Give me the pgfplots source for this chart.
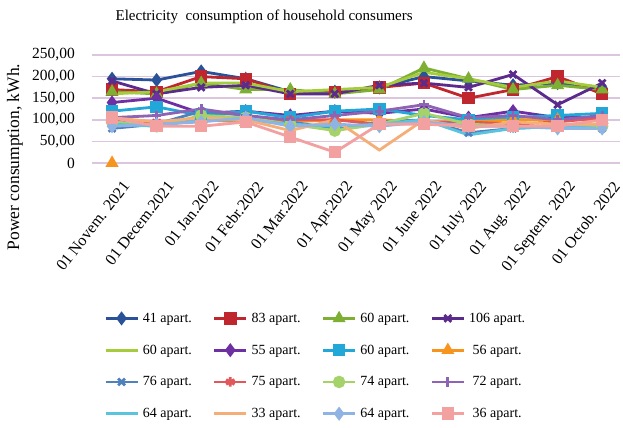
\documentclass[border=0pt]{standalone}
\usepackage{fontspec}
\setmainfont{Liberation Serif}
\usepackage{pgfplots}
\pgfplotsset{compat=1.18}
\definecolor{c41}{HTML}{2A5298}
\definecolor{c83}{HTML}{C0262D}
\definecolor{c60a}{HTML}{7DAF32}
\definecolor{c106}{HTML}{5A2A8C}
\definecolor{c60b}{HTML}{A4CC3C}
\definecolor{c55}{HTML}{6E2FA3}
\definecolor{c60c}{HTML}{22A8D8}
\definecolor{c56}{HTML}{F7941D}
\definecolor{c76}{HTML}{4F81BD}
\definecolor{c75}{HTML}{E2585A}
\definecolor{c74}{HTML}{A6D26A}
\definecolor{c72}{HTML}{8E63B3}
\definecolor{c64a}{HTML}{5BC3DE}
\definecolor{c33}{HTML}{F5AE78}
\definecolor{c64b}{HTML}{8FB4E3}
\definecolor{c36}{HTML}{F2A0A0}
\definecolor{gridc}{HTML}{DCC6DE}
\begin{document}
\begin{tikzpicture}
\path[use as bounding box] (-92bp,-265bp) rectangle (531bp,163bp);
\begin{axis}[
  at={(0,0)}, anchor=south west,
  scale only axis, width=528bp, height=108bp,
  xmin=-0.45, xmax=11.4, ymin=0, ymax=250,
  clip=false,
  unbounded coords=jump,
  axis line style={draw=none},
  major tick length=0pt,
  xtick={0,...,11},
  xticklabels={{01 Novem. 2021},{01 Decem.2021},{01 Jan.2022},{01 Febr.2022},{01 Mar.2022},{01 Apr.2022},{01 May 2022},{01 June 2022},{01 July 2022},{01 Aug. 2022},{01 Septem. 2022},{01 Octob. 2022}},
  xticklabel style={rotate=52, anchor=north east, inner sep=0pt, font=\fontsize{16bp}{17bp}\selectfont, xshift=-7bp, yshift=-18bp},
  ytick={50,100,150,200,250},
  yticklabels={{50,00},{100,00},{150,00},{200,00},{250,00}},
  extra y ticks={0},
  extra y tick labels={{0,00}},
  extra y tick style={grid style={color=black!28, line width=2.4bp}},
  yticklabel style={anchor=east, inner sep=0pt, xshift=-17bp, font=\fontsize{15.5bp}{17bp}\selectfont},
  ymajorgrids, xmajorgrids=false,
  major grid style={color=gridc, line width=1.6bp},
  title={Electricity\ \ consumption of household consumers},
  title style={at={(axis description cs:0.326,1.30)}, anchor=center, font=\fontsize{15bp}{16bp}\selectfont},
  ylabel={Power consumption, kWh.},
  every axis y label/.style={at={(axis description cs:-0.1458,0.056)}, rotate=90, anchor=center, font=\fontsize{17.5bp}{19bp}\selectfont},
  legend columns=4,
  legend style={at={(axis description cs:0.017,-1.35)}, anchor=north west, draw=none, fill=none,
    font=\fontsize{14bp}{15bp}\selectfont, row sep=17bp,
    /tikz/every even column/.append style={column sep=19bp},
    /tikz/every odd column/.append style={column sep=2bp}},
  legend image code/.code={\draw[mark repeat=2,mark phase=2,#1] plot coordinates {(0bp,0bp) (16bp,0bp) (32bp,0bp)};},
  every axis plot/.append style={line width=2.8bp, mark size=4.8bp, mark options={solid}},
]
\addplot[color=c41, mark=diamond*] coordinates {(0,195)(1,192)(2,212)(3,195)(4,165)(5,165)(6,175)(7,200)(8,190)(9,180)(10,185)(11,175)};
\addlegendentry{41 apart.}
\addplot[color=c83, mark=square*] coordinates {(0,170)(1,165)(2,200)(3,195)(4,160)(5,165)(6,175)(7,185)(8,150)(9,170)(10,200)(11,160)};
\addlegendentry{83 apart.}
\addplot[color=c60a, mark=triangle*] coordinates {(0,165)(1,160)(2,185)(3,170)(4,170)(5,160)(6,170)(7,220)(8,195)(9,170)(10,180)(11,170)};
\addlegendentry{60 apart.}
\addplot[color=c106, mark=x] coordinates {(0,190)(1,160)(2,175)(3,180)(4,160)(5,160)(6,180)(7,185)(8,175)(9,205)(10,135)(11,185)};
\addlegendentry{106 apart.}
\addplot[color=c60b, mark=none] coordinates {(0,160)(1,165)(2,185)(3,185)(4,165)(5,170)(6,175)(7,210)(8,195)(9,175)(10,190)(11,175)};
\addlegendentry{60 apart.}
\addplot[color=c55, mark=diamond*] coordinates {(0,140)(1,150)(2,115)(3,120)(4,110)(5,120)(6,115)(7,125)(8,105)(9,120)(10,105)(11,105)};
\addlegendentry{55 apart.}
\addplot[color=c60c, mark=square*] coordinates {(0,120)(1,130)(2,110)(3,120)(4,105)(5,120)(6,125)(7,110)(8,100)(9,105)(10,110)(11,115)};
\addlegendentry{60 apart.}
\addplot[color=c56, mark=triangle*] coordinates {(0,0)(1,nan)(2,100)(3,95)(4,95)(5,100)(6,100)(7,95)(8,95)(9,100)(10,100)(11,100)};
\addlegendentry{56 apart.}
\addplot[color=c76, mark=x] coordinates {(0,80)(1,90)(2,120)(3,110)(4,95)(5,80)(6,95)(7,100)(8,70)(9,80)(10,85)(11,80)};
\addlegendentry{76 apart.}
\addplot[color=c75, mark=asterisk] coordinates {(0,100)(1,95)(2,100)(3,100)(4,100)(5,100)(6,90)(7,95)(8,95)(9,90)(10,95)(11,105)};
\addlegendentry{75 apart.}
\addplot[color=c74, mark=*] coordinates {(0,95)(1,85)(2,110)(3,105)(4,90)(5,75)(6,90)(7,115)(8,90)(9,85)(10,85)(11,85)};
\addlegendentry{74 apart.}
\addplot[color=c72, mark=+] coordinates {(0,105)(1,110)(2,125)(3,110)(4,100)(5,110)(6,120)(7,135)(8,105)(9,110)(10,100)(11,110)};
\addlegendentry{72 apart.}
\addplot[color=c64a, mark=none] coordinates {(0,90)(1,85)(2,100)(3,100)(4,90)(5,85)(6,90)(7,100)(8,65)(9,80)(10,85)(11,80)};
\addlegendentry{64 apart.}
\addplot[color=c33, mark=none] coordinates {(0,105)(1,95)(2,105)(3,100)(4,75)(5,100)(6,30)(7,100)(8,80)(9,95)(10,90)(11,90)};
\addlegendentry{33 apart.}
\addplot[color=c64b, mark=diamond*] coordinates {(0,85)(1,90)(2,95)(3,105)(4,85)(5,90)(6,85)(7,95)(8,85)(9,85)(10,80)(11,80)};
\addlegendentry{64 apart.}
\addplot[color=c36, mark=square*] coordinates {(0,105)(1,85)(2,85)(3,95)(4,60)(5,25)(6,90)(7,90)(8,85)(9,85)(10,85)(11,100)};
\addlegendentry{36 apart.}
\end{axis}
\end{tikzpicture}
\end{document}
